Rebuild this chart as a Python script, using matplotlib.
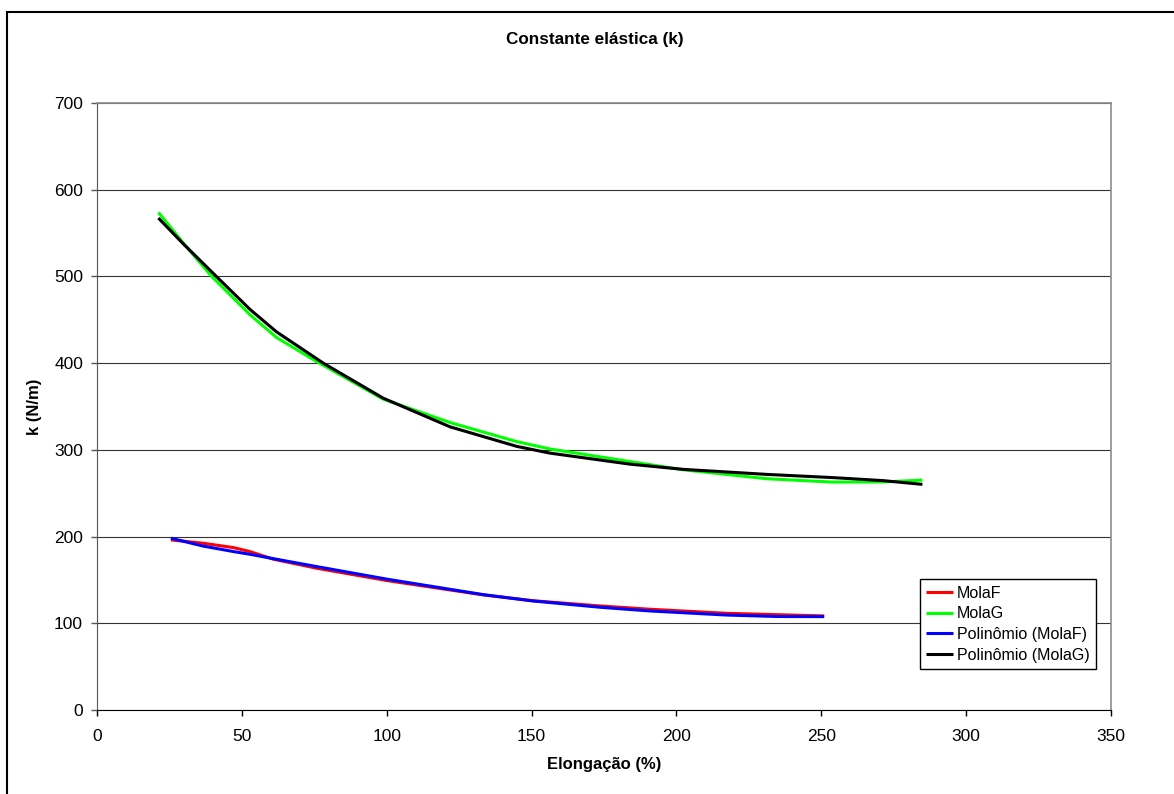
import matplotlib
matplotlib.use("Agg")
import matplotlib.pyplot as plt
from matplotlib.patches import Rectangle

# ── DATA ──────────────────────────────────────────────────────────────────
molaF_x = [25.5, 36.7, 47.1, 52.8, 60.9, 75.8, 100.2, 133.4, 150.3, 173.6, 190.9, 217.4, 251.0]
molaF_y = [196.2, 192.3, 187.3, 182.7, 173.9, 163.5, 149.2, 132.7, 126.1, 120.0, 116.2, 111.5, 108.5]

molaG_x = [21.2, 29.8, 39.6, 52.8, 62.0, 75.8, 98.8, 121.9, 144.9, 156.4, 184.0, 202.4, 231.2, 254.0, 271.4, 284.9]
molaG_y = [573.8, 538.5, 500.0, 455.8, 429.5, 401.9, 358.5, 331.5, 309.5, 301.0, 286.5, 277.0, 266.7, 262.8, 263.0, 265.1]

polyF_x = [25.5, 36.7, 47.1, 52.8, 60.9, 75.8, 100.2, 133.4, 150.3, 173.6, 190.9, 217.4, 235.0, 251.0]
polyF_y = [198.1, 189.0, 182.7, 179.6, 174.5, 165.4, 150.8, 133.0, 125.8, 118.5, 114.2, 109.5, 107.8, 107.7]

polyG_x = [21.2, 29.8, 41.2, 52.8, 62.0, 78.1, 98.8, 121.9, 144.9, 156.4, 184.0, 202.4, 231.2, 254.0, 271.4, 284.9]
polyG_y = [567.3, 537.5, 500.0, 462.0, 436.0, 400.0, 359.6, 326.5, 304.0, 296.2, 283.5, 277.5, 271.7, 268.0, 264.5, 260.2]

series_labels = ["MolaF", "MolaG", "Polinômio (MolaF)", "Polinômio (MolaG)"]
series_colors = ["#FF0000", "#00FF00", "#0000FF", "#000000"]

# ── STYLE ─────────────────────────────────────────────────────────────────
plt.rcParams.update({
    "font.family": ["Liberation Sans", "DejaVu Sans"],
    "font.size": 12,
})

fig = plt.figure(figsize=(11.74, 7.94), dpi=100)
ax = fig.add_axes([97 / 1174, 84 / 794, 1014 / 1174, 607 / 794])

# outer chart border (only top/left visible in the crop)
fig.patches.append(Rectangle((7 / 1174, -0.2), 1.5, (794 - 12) / 794 + 0.2,
                             transform=fig.transFigure, fill=False,
                             edgecolor="black", linewidth=1.5, clip_on=False))

# ── LINES ─────────────────────────────────────────────────────────────────
xs = [molaF_x, molaG_x, polyF_x, polyG_x]
ys = [molaF_y, molaG_y, polyF_y, polyG_y]
for x, y, lab, col in zip(xs, ys, series_labels, series_colors):
    ax.plot(x, y, color=col, linewidth=2.2, label=lab,
            solid_capstyle="butt", solid_joinstyle="round", zorder=3)

# ── AXES ──────────────────────────────────────────────────────────────────
ax.set_xlim(0, 350)
ax.set_ylim(0, 700)
ax.set_xticks(range(0, 351, 50))
ax.set_yticks(range(0, 701, 100))
ax.yaxis.grid(True, color="#333333", linewidth=0.8, zorder=0)
ax.set_axisbelow(True)

ax.spines["top"].set_color("#8c8c8c")
ax.spines["right"].set_color("#8c8c8c")
ax.spines["top"].set_linewidth(1.2)
ax.spines["right"].set_linewidth(1.2)
ax.spines["left"].set_color("#555555")
ax.spines["bottom"].set_color("black")
ax.tick_params(axis="both", direction="out", length=4, width=1, labelsize=12.5)
ax.tick_params(axis="y", pad=6, color="#555555")
ax.tick_params(axis="x", pad=9.5)

ax.set_title("Constante elástica (k)", fontsize=12.3, fontweight="bold",
             x=0.491, y=(710 - 48) / 607, va="center")
ax.set_xlabel("Elongação (%)", fontsize=12, fontweight="bold")
ax.set_ylabel("k (N/m)", fontsize=12, fontweight="bold")
ax.xaxis.set_label_coords(0.5, (710 - 765) / 607)
ax.xaxis.label.set_va("center")
ax.yaxis.set_label_coords((34 - 97) / 1014, 0.5)
ax.yaxis.label.set_va("center")

# ── LEGEND ────────────────────────────────────────────────────────────────
leg = ax.legend(loc="lower right", bbox_to_anchor=(0.9855, 0.0675),
                borderaxespad=0, fontsize=11.5, frameon=True, fancybox=False,
                framealpha=1, edgecolor="black", handlelength=1.7,
                handletextpad=0.25, labelspacing=0.35, borderpad=0.4)
leg.get_frame().set_linewidth(1.0)

fig.savefig("out.png", dpi=100, facecolor="white")
